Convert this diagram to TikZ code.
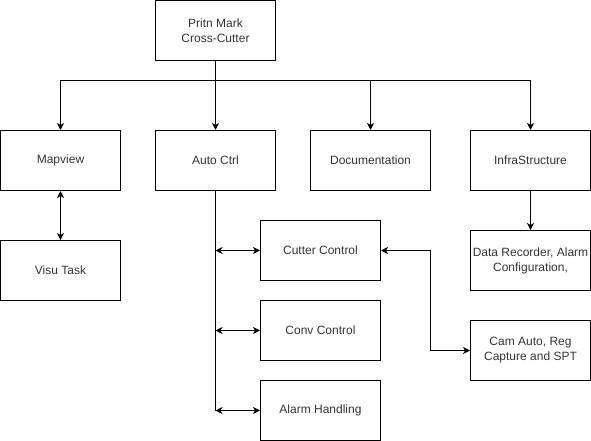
\documentclass[tikz,border=0pt]{standalone}
\usepackage{fontspec}
\setmainfont{Liberation Sans}
\usetikzlibrary{arrows.meta}
\begin{document}
\begin{tikzpicture}[x=1pt,y=-1pt,
  box/.style={draw,line width=1pt,minimum width=120pt,minimum height=60pt,inner sep=0pt,align=center,font=\fontsize{12}{15}\selectfont,text=black!80},
  conn/.style={line width=1pt,-{Stealth[length=7pt,width=7pt,inset=2pt]}},
  dconn/.style={line width=1pt,{Stealth[length=7pt,width=7pt,inset=2pt]}-{Stealth[length=7pt,width=7pt,inset=2pt]}}]
\useasboundingbox (0,0) rectangle (591,441);
\node[box] (top) at (215.5,30.5) {Pritn Mark\\Cross-Cutter};
\node[box] (map) at (60.5,160.5) {Mapview};
\node[box] (auto) at (215.5,160.5) {Auto Ctrl};
\node[box] (doc) at (370.5,160.5) {Documentation};
\node[box] (infra) at (530.5,160.5) {InfraStructure};
\node[box] (visu) at (60.5,270.5) {Visu Task};
\node[box] (cut) at (320.5,250.5) {Cutter Control};
\node[box] (conv) at (320.5,330.5) {Conv Control};
\node[box] (alarm) at (320.5,410.5) {Alarm Handling};
\node[box] (data) at (530.5,260.5) {Data Recorder, Alarm\\Configuration,};
\node[box] (cam) at (530.5,350.5) {Cam Auto, Reg\\Capture and SPT};
\coordinate (bus) at (215.5,80.5);
\coordinate (v1) at (215.5,250.5);
\coordinate (v2) at (215.5,330.5);
\coordinate (v3) at (215.5,410.5);
\coordinate (c1) at (430.5,250.5);
\coordinate (c2) at (430.5,350.5);
\draw[line width=1pt] (top.south) -- (bus);
\draw[conn] (bus) -| (map.north);
\draw[conn] (bus) -- (auto.north);
\draw[conn] (bus) -| (doc.north);
\draw[conn] (bus) -| (infra.north);
\draw[dconn] (map.south) -- (visu.north);
\draw[line width=1pt] (auto.south) -- (v3);
\draw[dconn] (v1) -- (cut.west);
\draw[dconn] (v2) -- (conv.west);
\draw[dconn] (v3) -- (alarm.west);
\draw[conn] (infra.south) -- (data.north);
\draw[dconn] (cut.east) -- (c1) -- (c2) -- (cam.west);
\end{tikzpicture}
\end{document}
